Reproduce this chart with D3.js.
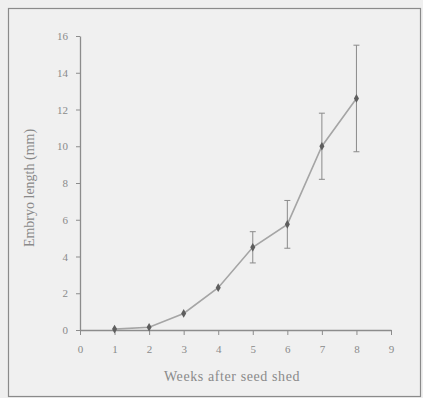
<!DOCTYPE html>
<html>
<head>
<meta charset="utf-8">
<script src="https://cdn.jsdelivr.net/npm/d3@7"></script>
<style>
  html, body { margin: 0; padding: 0; background: #efefef; }
  svg { display: block; font-family: "Liberation Serif", "DejaVu Serif", serif; }
</style>
</head>
<body>
<div id="chart"></div>
<script>
// values
const weeks = [1, 2, 3, 4, 5, 6, 7, 8];
const lengths = [0.05, 0.15, 0.9, 2.3, 4.5, 5.75, 10.0, 12.6];
const errors = [0, 0, 0, 0, 0.85, 1.3, 1.8, 2.9];
const xTicks = [0, 1, 2, 3, 4, 5, 6, 7, 8, 9];
const yTicks = [0, 2, 4, 6, 8, 10, 12, 14, 16];

const W = 423, H = 398;
const svg = d3.select('#chart').append('svg').attr('width', W).attr('height', H);

// frame
svg.append('rect').attr('x', 8.5).attr('y', 8.5).attr('width', 412).attr('height', 388)
  .attr('fill', '#f0f0f0').attr('stroke', '#8a8a8a').attr('stroke-width', 1.2);

const x = d3.scaleLinear().domain([0, 9]).range([80, 391]);
const y = d3.scaleLinear().domain([0, 16]).range([330, 36]);

const data = weeks.map((w, i) => ({ w, v: lengths[i], e: errors[i] }));

// axes
const xAxis = svg.append('g').attr('transform', `translate(0,${y(0)})`)
  .call(d3.axisBottom(x).tickValues(xTicks).tickFormat(d3.format('d')).tickSize(5).tickSizeOuter(0).tickPadding(10));
const yAxis = svg.append('g').attr('transform', `translate(${x(0)},0)`)
  .call(d3.axisLeft(y).tickValues(yTicks).tickSize(4).tickSizeOuter(0).tickPadding(8));

[xAxis, yAxis].forEach(g => {
  g.select('.domain').attr('stroke', '#8c8c8c').attr('stroke-width', 1.3);
  g.selectAll('.tick line').attr('stroke', '#8c8c8c');
  g.selectAll('.tick text').attr('fill', '#8a8a8a').style('font-size', '11px')
    .style('font-family', '"Liberation Serif", serif');
});

// error bars
const bars = svg.append('g').attr('stroke', '#8a8a8a').attr('stroke-width', 1);
data.filter(d => d.e > 0).forEach(d => {
  const cx = x(d.w);
  bars.append('line').attr('x1', cx).attr('x2', cx).attr('y1', y(d.v + d.e)).attr('y2', y(d.v - d.e));
  bars.append('line').attr('x1', cx - 3).attr('x2', cx + 3).attr('y1', y(d.v + d.e)).attr('y2', y(d.v + d.e));
  bars.append('line').attr('x1', cx - 3).attr('x2', cx + 3).attr('y1', y(d.v - d.e)).attr('y2', y(d.v - d.e));
});

// line
svg.append('path').datum(data)
  .attr('fill', 'none').attr('stroke', '#a5a5a5').attr('stroke-width', 1.6)
  .attr('d', d3.line().x(d => x(d.w)).y(d => y(d.v)));

// markers
svg.append('g').selectAll('path').data(data).join('path')
  .attr('transform', d => `translate(${x(d.w)},${y(d.v)})`)
  .attr('d', d3.symbol().type(d3.symbolDiamond).size(22))
  .attr('fill', '#5e5e5e');

// titles
svg.append('text').attr('x', 232).attr('y', 381).attr('text-anchor', 'middle')
  .attr('fill', '#8a8a8a').style('font-size', '14px').style('letter-spacing', '0.6px')
  .text('Weeks after seed shed');
svg.append('text').attr('transform', 'translate(34,188) rotate(-90)').attr('text-anchor', 'middle')
  .attr('fill', '#8a8a8a').style('font-size', '14px')
  .text('Embryo length (mm)');
</script>
</body>
</html>
